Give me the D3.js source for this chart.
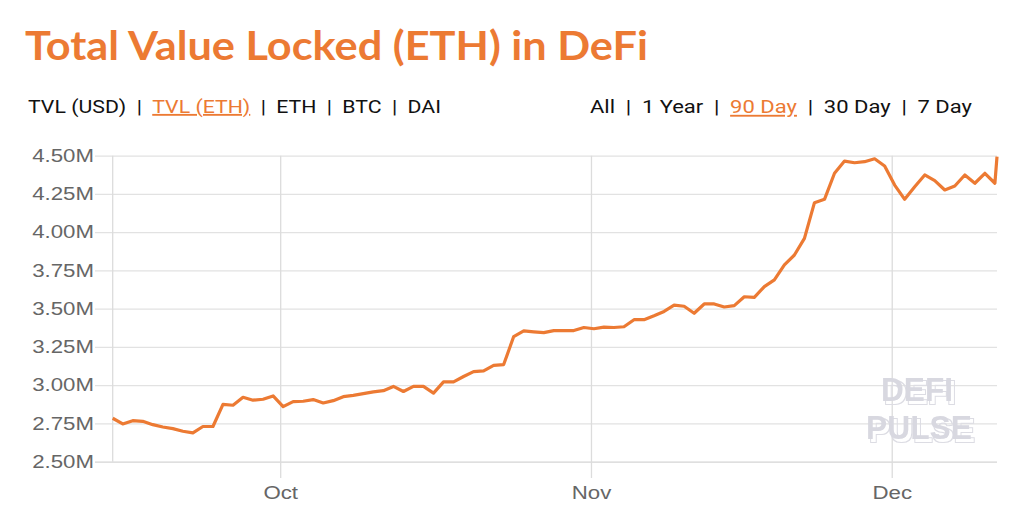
<!DOCTYPE html>
<html>
<head>
<meta charset="utf-8">
<script src="https://cdn.jsdelivr.net/npm/d3@7"></script>
<style>
  html, body { margin: 0; padding: 0; background: #ffffff; }
  svg { display: block; }
</style>
</head>
<body>
<script>
// ---------- DATA ----------
const title = "Total Value Locked (ETH) in DeFi";
const navLeft = ["TVL (USD)", "TVL (ETH)", "ETH", "BTC", "DAI"];
const navLeftActive = "TVL (ETH)";
const navRight = ["All", "1 Year", "90 Day", "30 Day", "7 Day"];
const navRightActive = "90 Day";
const watermark = ["DEFI", "PULSE"];

const dates = [
  "2019-09-14","2019-09-15","2019-09-16","2019-09-17","2019-09-18","2019-09-19","2019-09-20","2019-09-21","2019-09-22","2019-09-23",
  "2019-09-24","2019-09-25","2019-09-26","2019-09-27","2019-09-28","2019-09-29","2019-09-30",
  "2019-10-01","2019-10-02","2019-10-03","2019-10-04","2019-10-05","2019-10-06","2019-10-07","2019-10-08","2019-10-09","2019-10-10",
  "2019-10-11","2019-10-12","2019-10-13","2019-10-14","2019-10-15","2019-10-16","2019-10-17","2019-10-18","2019-10-19","2019-10-20",
  "2019-10-21","2019-10-22","2019-10-23","2019-10-24","2019-10-25","2019-10-26","2019-10-27","2019-10-28","2019-10-29","2019-10-30","2019-10-31",
  "2019-11-01","2019-11-02","2019-11-03","2019-11-04","2019-11-05","2019-11-06","2019-11-07","2019-11-08","2019-11-09","2019-11-10",
  "2019-11-11","2019-11-12","2019-11-13","2019-11-14","2019-11-15","2019-11-16","2019-11-17","2019-11-18","2019-11-19","2019-11-20",
  "2019-11-21","2019-11-22","2019-11-23","2019-11-24","2019-11-25","2019-11-26","2019-11-27","2019-11-28","2019-11-29","2019-11-30",
  "2019-12-01","2019-12-02","2019-12-03","2019-12-04","2019-12-05","2019-12-06","2019-12-07","2019-12-08","2019-12-09","2019-12-10","2019-12-11"
];
const lastTimestamp = "2019-12-11T12:00:00Z";

// TVL in ETH, millions
const tvlEth = [
  2.784,2.747,2.768,2.764,2.742,2.727,2.716,2.699,2.688,2.730,
  2.730,2.875,2.869,2.921,2.902,2.908,2.930,
  2.860,2.893,2.895,2.906,2.884,2.899,2.925,2.934,2.945,2.956,
  2.964,2.992,2.959,2.992,2.992,2.948,3.022,3.022,3.057,3.089,
  3.094,3.130,3.135,3.318,3.355,3.349,3.344,3.357,3.357,3.357,3.377,
  3.369,3.380,3.377,3.382,3.428,3.428,3.454,3.482,3.523,3.516,
  3.470,3.531,3.531,3.511,3.520,3.578,3.574,3.644,3.688,3.786,
  3.851,3.960,4.193,4.215,4.385,4.465,4.454,4.461,4.480,4.433,
  4.308,4.215,4.297,4.374,4.337,4.276,4.302,4.374,4.320,4.385,4.320
];
const lastValue = 4.494;

const yTicks = [2.5, 2.75, 3.0, 3.25, 3.5, 3.75, 4.0, 4.25, 4.5];
const yDomain = [2.5, 4.5];

// ---------- LAYOUT ----------
const W = 1024, H = 521;
const plotLeft = 112.7, plotRight = 997, plotTop = 155.7, plotBottom = 461.7;
const gridLeft = 95, tickBottom = 478;
const orange = "#EC7A33";
const axisSX = 1.27;   // horizontal text stretch of the source picture

const parseDay = d3.utcParse("%Y-%m-%dT%H:%M:%SZ");
const series = dates.map((d, i) => ({ t: parseDay(d + "T07:00:00Z"), v: tvlEth[i] }));
series.push({ t: parseDay(lastTimestamp), v: lastValue });

const svg = d3.select("body").append("svg").attr("width", W).attr("height", H);

const x = d3.scaleUtc().domain([series[0].t, series[series.length - 1].t]).range([plotLeft, plotRight]);
const y = d3.scaleLinear().domain(yDomain).range([plotBottom, plotTop]);

// ---------- TITLE ----------
const titleText = svg.append("text")
  .attr("x", 0).attr("y", 0)
  .attr("font-family", "Lato, 'Open Sans', sans-serif")
  .attr("font-weight", 700)
  .attr("font-size", 41)
  .attr("fill", orange)
  .text(title);
{
  const w = titleText.node().getComputedTextLength();
  titleText.attr("transform", `translate(25,60) scale(${623 / w},1)`);
}

// ---------- NAV ----------
function navGroup(items, active, targetLeft, targetRight) {
  const g = svg.append("g");
  let cx = 0;
  const gap = 9;
  items.forEach((item, i) => {
    const t = g.append("text")
      .attr("x", cx).attr("y", 0)
      .attr("font-family", "Roboto, 'Noto Sans', sans-serif")
      .attr("font-size", 18.5)
      .attr("fill", item === active ? orange : "#111")
      .style("text-decoration", item === active ? "underline" : "none")
      .text(item);
    cx += t.node().getComputedTextLength();
    if (i < items.length - 1) {
      cx += gap;
      const p = g.append("text")
        .attr("x", cx).attr("y", 0)
        .attr("font-family", "Roboto, 'Noto Sans', sans-serif")
        .attr("font-size", 18.5)
        .attr("fill", "#111")
        .text("|");
      cx += p.node().getComputedTextLength() + gap;
    }
  });
  const s = (targetRight - targetLeft) / cx;
  g.attr("transform", `translate(${targetLeft},113) scale(${s},1)`);
}
navGroup(navLeft, navLeftActive, 28, 441);
navGroup(navRight, navRightActive, 590, 972);

// ---------- GRID / AXES ----------
const yAxis = d3.axisLeft(y)
  .tickValues(yTicks)
  .tickSizeInner(-(plotRight - gridLeft))
  .tickSizeOuter(0)
  .tickPadding(1)
  .tickFormat(d => d3.format(".2f")(d) + "M");

const gy = svg.append("g").attr("transform", `translate(${gridLeft},0)`).call(yAxis);
gy.select(".domain").remove();
gy.selectAll(".tick line").attr("stroke", "#e2e2e2").attr("stroke-width", 1.3);
gy.selectAll(".tick line").filter(d => d === yDomain[0]).attr("stroke", "#d4d4d4");
gy.selectAll(".tick text")
  .attr("font-family", "'Liberation Sans', Arial, Helvetica, sans-serif")
  .attr("font-size", 17.5)
  .attr("fill", "#666")
  .attr("transform", function () { return `translate(${d3.select(this).attr("x")},0) scale(${axisSX},1)`; })
  .attr("x", 0);

const xAxis = d3.axisBottom(x)
  .ticks(d3.utcMonth.every(1))
  .tickFormat(d3.utcFormat("%b"))
  .tickSizeInner(-(tickBottom - plotTop))
  .tickSizeOuter(0)
  .tickPadding(9);

const gx = svg.append("g").attr("transform", `translate(0,${tickBottom})`).call(xAxis);
gx.select(".domain").remove();
gx.selectAll(".tick line").attr("stroke", "#dcdcdc").attr("stroke-width", 1.3);
gx.selectAll(".tick text")
  .attr("font-family", "'Liberation Sans', Arial, Helvetica, sans-serif")
  .attr("font-size", 17.5)
  .attr("fill", "#666")
  .attr("transform", `scale(${axisSX},1)`);

// left plot border
svg.append("line")
  .attr("x1", plotLeft).attr("x2", plotLeft)
  .attr("y1", plotTop).attr("y2", plotBottom)
  .attr("stroke", "#dcdcdc").attr("stroke-width", 1.3);

// ---------- WATERMARK (3D outline via filter) ----------
const defs = svg.append("defs");
const f = defs.append("filter").attr("id", "wm3d").attr("x", "-10%").attr("y", "-10%").attr("width", "130%").attr("height", "130%");
f.append("feOffset").attr("in", "SourceAlpha").attr("dx", 2.5).attr("dy", 2.5).attr("result", "off");
f.append("feMorphology").attr("in", "off").attr("operator", "dilate").attr("radius", 0.9).attr("result", "offD");
f.append("feComposite").attr("in", "offD").attr("in2", "off").attr("operator", "out").attr("result", "outline");
f.append("feFlood").attr("flood-color", "#dcdce3").attr("result", "col");
f.append("feComposite").attr("in", "col").attr("in2", "outline").attr("operator", "in").attr("result", "outlineC");
const fm = f.append("feMerge");
fm.append("feMergeNode").attr("in", "outlineC");
fm.append("feMergeNode").attr("in", "SourceGraphic");

[[watermark[0], 917, 401, 72], [watermark[1], 919, 439, 106]].forEach(([txt, cx, by, tw]) => {
  svg.append("text")
    .attr("x", cx).attr("y", by)
    .attr("font-family", "'Liberation Sans', Arial, sans-serif")
    .attr("font-weight", 700)
    .attr("font-size", 33)
    .attr("fill", "#d8d8e0")
    .attr("text-anchor", "middle")
    .attr("textLength", tw).attr("lengthAdjust", "spacingAndGlyphs")
    .attr("filter", "url(#wm3d)")
    .text(txt);
});

// ---------- LINE ----------
const line = d3.line().x(d => x(d.t)).y(d => y(d.v));
svg.append("path")
  .datum(series)
  .attr("d", line)
  .attr("fill", "none")
  .attr("stroke", orange)
  .attr("stroke-width", 3.2)
  .attr("stroke-linejoin", "round")
  .attr("stroke-linecap", "butt");
</script>
</body>
</html>
